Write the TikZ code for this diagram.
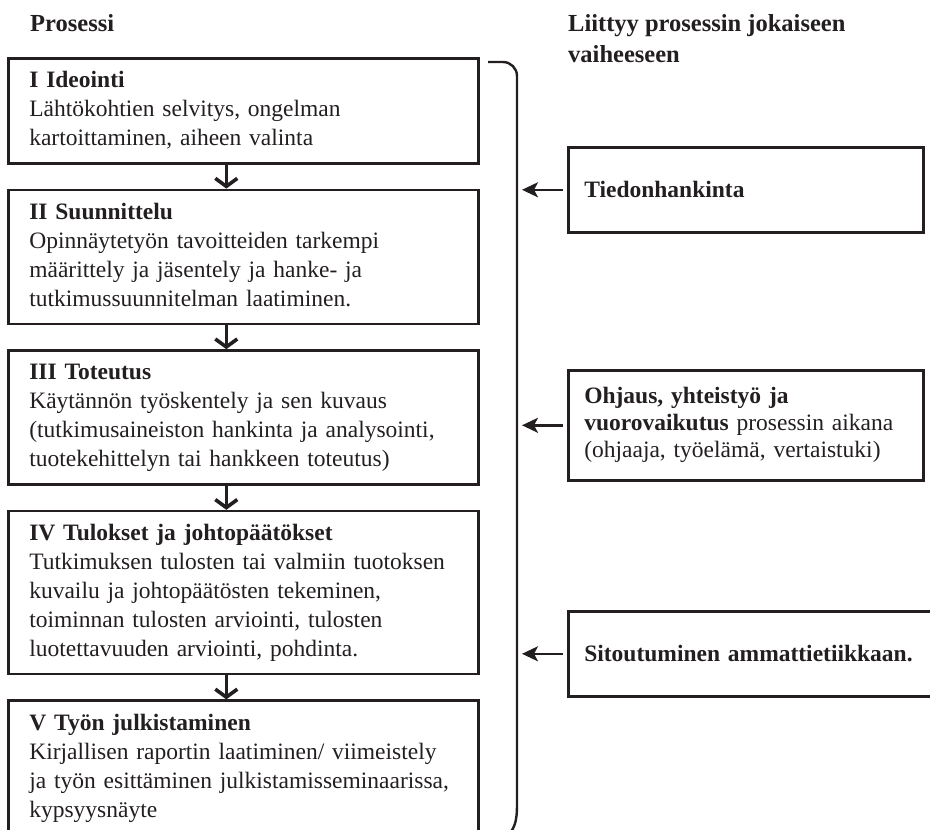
\documentclass[tikz,border=0pt]{standalone}
\usepackage{fontspec}
\setmainfont{Liberation Serif}
\usepackage{tikz}
\usetikzlibrary{shapes,arrows,arrows.meta}
\usetikzlibrary{positioning}
\definecolor{ink}{HTML}{231F20}
\tikzstyle{downarrow} = [line width=3.6pt, draw=ink, -{Straight Barb[length=8pt,width=22pt]}]
\tikzstyle{sidearrow} = [line width=2.4pt, draw=ink, -{Stealth[length=16pt,width=15pt,inset=4pt]}]
\tikzstyle{phase} = [
    rectangle, draw=ink, line width=2.6pt, text=ink, text width=428pt,
    inner xsep=21pt, inner ysep=9pt, align=left,
    font=\fontsize{23.5}{29}\selectfont]
\tikzstyle{side} = [
    rectangle, draw=ink, line width=2.6pt, text=ink, anchor=north west,
    inner xsep=16pt, inner ysep=6pt, align=left, minimum height=85pt,
    font=\fontsize{23.5}{27}\selectfont]
\tikzstyle{heading} = [inner sep=0pt, text=ink, align=left,
    font=\fontsize{24.5}{31}\selectfont\bfseries]

\begin{document}
\begin{tikzpicture}[x=1pt, y=-1pt, node distance=24pt]
\useasboundingbox (0,0) rectangle (930,830);
\clip (0,0) rectangle (930,830);

\node (head1) [heading, anchor=base west] at (30,31) {Prosessi};
\node (head2) [heading, anchor=north west] at (568,9.3) {%
    \strut Liittyy prosessin jokaiseen\\
    vaiheeseen};

\node (node1) [phase, anchor=north west] at (7,57) {
    \strut\textbf{I Ideointi}\\
    Lähtökohtien selvitys, ongelman\\
    kartoittaminen, aiheen valinta\strut
};

\node (node2) [phase, below=of node1] {
    \strut\textbf{II Suunnittelu}\\
    Opinnäytetyön tavoitteiden tarkempi\\
    määrittely ja jäsentely ja hanke- ja\\
    tutkimussuunnitelman laatiminen.\strut
};

\node (node3) [phase, below=of node2] {
    \strut\textbf{III Toteutus}\\
    Käytännön työskentely ja sen kuvaus\\
    (tutkimusaineiston hankinta ja analysointi,\\
    tuotekehittelyn tai hankkeen toteutus)\strut
};

\node (node4) [phase, below=of node3] {
    \strut\textbf{IV Tulokset ja johtopäätökset}\\
    Tutkimuksen tulosten tai valmiin tuotoksen\\
    kuvailu ja johtopäätösten tekeminen,\\
    toiminnan tulosten arviointi, tulosten\\
    luotettavuuden arviointi, pohdinta.\strut
};

\node (node5) [phase, below=of node4] {
    \strut\textbf{V Työn julkistaminen}\\
    Kirjallisen raportin laatiminen/ viimeistely\\
    ja työn esittäminen julkistamisseminaarissa,\\
    kypsyysnäyte\strut
};

\draw [downarrow] ([xshift=-17pt]node1.south) -- ([xshift=-17pt]node2.north);
\draw [downarrow] ([xshift=-17pt]node2.south) -- ([xshift=-17pt]node3.north);
\draw [downarrow] ([xshift=-17pt]node3.south) -- ([xshift=-17pt]node4.north);
\draw [downarrow] ([xshift=-17pt]node4.south) -- ([xshift=-17pt]node5.north);

% brace along the whole process
\draw [draw=ink, line width=2.4pt, rounded corners=14pt]
    (488,62) -- (517,62) -- (517,790)
    .. controls (517,822) and (515,830) .. (503,840);
\coordinate (brace) at (522,0);

\node (info1) [side, text width=323pt] at (567,146) {\textbf{Tiedonhankinta}};
\node (info2) [side, text width=323pt, minimum height=110pt] at (567,369) {
    \textbf{Ohjaus, yhteistyö ja}\\
    \textbf{vuorovaikutus} prosessin aikana\\
    (ohjaaja, työelämä, vertaistuki)
};
\node (info3) [side, text width=341pt] at (567,610) {\textbf{Sitoutuminen ammattietiikkaan.}};

\draw [sidearrow] ([xshift=-4pt]info1.west) -- (brace |- info1.west);
\draw [sidearrow] ([xshift=-4pt]info2.west) -- (brace |- info2.west);
\draw [sidearrow] ([xshift=-4pt]info3.west) -- (brace |- info3.west);
\end{tikzpicture}
\end{document}
